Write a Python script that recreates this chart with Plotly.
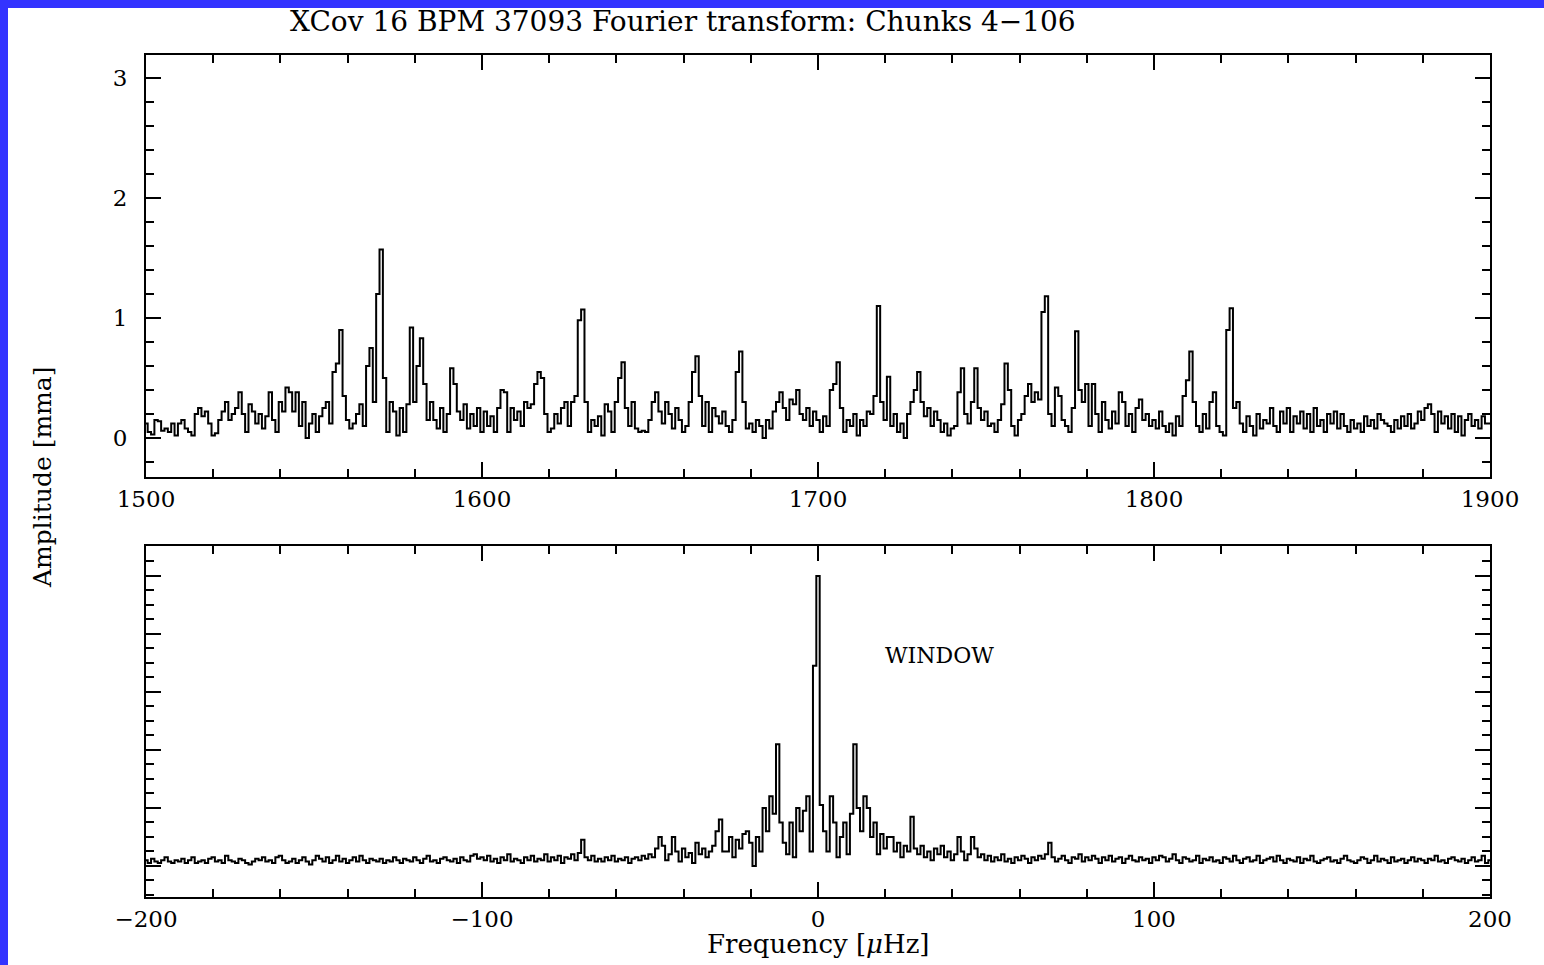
import plotly.graph_objects as go

# ---------------- data ----------------
freq_start_top = 1500   # µHz, 1 µHz bins
amp_1500_1599 = [0.12,0.05,0.03,0.15,0.14,0.06,0.08,0.05,0.12,0.02,
                 0.12,0.15,0.08,0.05,0.02,0.2,0.25,0.18,0.22,0.12,
                 0.02,0.04,0.15,0.22,0.3,0.15,0.2,0.25,0.38,0.2,
                 0.05,0.28,0.22,0.12,0.2,0.08,0.18,0.38,0.15,0.05,
                 0.3,0.22,0.42,0.38,0.22,0.38,0.1,0.3,0.0,0.12,
                 0.2,0.05,0.18,0.25,0.3,0.12,0.55,0.62,0.9,0.35,
                 0.15,0.08,0.12,0.2,0.28,0.1,0.6,0.75,0.3,1.2,
                 1.57,0.5,0.05,0.3,0.22,0.02,0.25,0.05,0.28,0.92,
                 0.3,0.6,0.83,0.45,0.15,0.3,0.15,0.08,0.25,0.05,
                 0.2,0.58,0.45,0.22,0.15,0.28,0.08,0.2,0.1,0.25]
amp_1600_1699 = [0.05,0.22,0.1,0.18,0.05,0.25,0.4,0.38,0.05,0.25,
                 0.15,0.22,0.1,0.3,0.25,0.28,0.45,0.55,0.5,0.2,
                 0.05,0.08,0.2,0.12,0.25,0.3,0.1,0.3,0.35,0.98,
                 1.07,0.3,0.05,0.15,0.1,0.18,0.02,0.28,0.22,0.05,
                 0.3,0.5,0.63,0.25,0.1,0.3,0.08,0.05,0.06,0.05,
                 0.15,0.3,0.38,0.22,0.12,0.3,0.2,0.08,0.25,0.15,
                 0.05,0.1,0.3,0.55,0.68,0.35,0.1,0.3,0.05,0.25,
                 0.18,0.12,0.22,0.1,0.05,0.15,0.55,0.72,0.3,0.08,
                 0.12,0.05,0.15,0.1,0.0,0.15,0.08,0.22,0.3,0.38,
                 0.25,0.15,0.32,0.28,0.4,0.2,0.15,0.25,0.1,0.22]
amp_1700_1799 = [0.15,0.05,0.18,0.1,0.4,0.45,0.63,0.25,0.05,0.15,
                 0.1,0.2,0.02,0.15,0.1,0.22,0.2,0.35,1.1,0.3,
                 0.15,0.51,0.1,0.2,0.05,0.12,0.0,0.2,0.3,0.4,
                 0.55,0.3,0.18,0.25,0.1,0.22,0.15,0.05,0.12,0.02,
                 0.08,0.1,0.38,0.58,0.2,0.12,0.3,0.58,0.25,0.15,
                 0.22,0.1,0.12,0.05,0.15,0.28,0.62,0.4,0.1,0.02,
                 0.15,0.2,0.35,0.45,0.3,0.38,0.32,1.05,1.18,0.2,
                 0.1,0.42,0.35,0.15,0.1,0.05,0.25,0.89,0.4,0.3,
                 0.45,0.1,0.45,0.2,0.05,0.3,0.15,0.08,0.22,0.12,
                 0.38,0.3,0.1,0.2,0.05,0.25,0.32,0.15,0.2,0.1]
amp_1800_1900 = [0.15,0.08,0.22,0.1,0.05,0.12,0.02,0.18,0.1,0.35,
                 0.48,0.72,0.3,0.1,0.05,0.2,0.08,0.3,0.38,0.1,
                 0.05,0.02,0.9,1.08,0.25,0.3,0.12,0.05,0.18,0.1,
                 0.02,0.2,0.08,0.15,0.12,0.25,0.1,0.05,0.22,0.12,
                 0.25,0.05,0.18,0.12,0.22,0.08,0.2,0.05,0.25,0.1,
                 0.15,0.05,0.2,0.12,0.22,0.08,0.2,0.1,0.05,0.15,
                 0.08,0.12,0.05,0.18,0.1,0.15,0.08,0.2,0.15,0.12,
                 0.1,0.05,0.15,0.08,0.18,0.1,0.2,0.08,0.12,0.22,
                 0.15,0.25,0.28,0.2,0.05,0.22,0.12,0.18,0.08,0.2,
                 0.05,0.18,0.02,0.15,0.2,0.1,0.15,0.08,0.18,0.12,
                 0.12]

freq_start_win = -200   # µHz, 1 µHz bins
win_m200_m101 = [0.02,0.01,0.025,0.015,0.01,0.02,0.03,0.015,0.01,0.02,
                 0.015,0.025,0.01,0.02,0.03,0.01,0.015,0.02,0.01,0.025,
                 0.03,0.015,0.02,0.01,0.035,0.02,0.015,0.01,0.025,0.02,
                 0.01,0.005,0.015,0.025,0.02,0.03,0.015,0.02,0.01,0.03,
                 0.035,0.02,0.01,0.015,0.025,0.01,0.02,0.03,0.015,0.005,
                 0.02,0.035,0.025,0.015,0.03,0.01,0.02,0.035,0.015,0.025,
                 0.01,0.02,0.03,0.015,0.035,0.02,0.01,0.025,0.02,0.015,
                 0.025,0.01,0.02,0.015,0.03,0.02,0.01,0.025,0.02,0.015,
                 0.03,0.02,0.01,0.025,0.035,0.015,0.02,0.01,0.025,0.03,
                 0.02,0.015,0.025,0.01,0.03,0.02,0.015,0.035,0.04,0.025]
win_m100_m1 = [0.03,0.02,0.035,0.015,0.025,0.01,0.03,0.02,0.04,0.015,
               0.025,0.02,0.01,0.03,0.02,0.035,0.015,0.025,0.02,0.04,
               0.015,0.03,0.02,0.035,0.01,0.03,0.025,0.04,0.02,0.045,
               0.09,0.03,0.02,0.035,0.015,0.025,0.015,0.03,0.02,0.035,
               0.015,0.025,0.02,0.03,0.01,0.025,0.03,0.02,0.035,0.025,
               0.04,0.03,0.06,0.1,0.07,0.02,0.04,0.1,0.05,0.015,
               0.06,0.03,0.045,0.01,0.08,0.04,0.06,0.03,0.05,0.07,
               0.12,0.16,0.05,0.05,0.1,0.03,0.09,0.06,0.11,0.12,
               0.08,0.0,0.1,0.05,0.2,0.12,0.24,0.18,0.42,0.15,
               0.08,0.04,0.15,0.03,0.2,0.12,0.19,0.24,0.05,0.69]
win_0_100 = [1.0,0.21,0.12,0.05,0.24,0.15,0.03,0.1,0.15,0.04,
             0.18,0.42,0.2,0.12,0.24,0.2,0.1,0.15,0.04,0.11,
             0.06,0.1,0.1,0.05,0.08,0.03,0.07,0.05,0.17,0.06,
             0.04,0.07,0.03,0.05,0.02,0.06,0.04,0.07,0.03,0.05,
             0.02,0.04,0.1,0.05,0.02,0.04,0.1,0.06,0.03,0.04,
             0.02,0.035,0.015,0.03,0.02,0.04,0.015,0.025,0.01,0.03,
             0.02,0.035,0.025,0.01,0.03,0.02,0.035,0.025,0.04,0.08,
             0.03,0.015,0.025,0.035,0.02,0.01,0.03,0.025,0.04,0.015,
             0.03,0.02,0.035,0.025,0.01,0.03,0.02,0.035,0.015,0.025,
             0.03,0.01,0.025,0.035,0.02,0.015,0.03,0.02,0.025,0.01,
             0.03]
win_101_200 = [0.02,0.035,0.03,0.015,0.025,0.04,0.02,0.01,0.03,0.025,
               0.015,0.02,0.035,0.01,0.025,0.02,0.03,0.015,0.02,0.01,
               0.03,0.025,0.015,0.035,0.02,0.01,0.025,0.03,0.015,0.02,
               0.035,0.01,0.02,0.025,0.03,0.015,0.035,0.02,0.01,0.025,
               0.02,0.015,0.03,0.01,0.025,0.02,0.035,0.015,0.01,0.02,
               0.025,0.03,0.015,0.02,0.01,0.025,0.035,0.02,0.015,0.01,
               0.02,0.03,0.025,0.01,0.02,0.035,0.015,0.025,0.02,0.01,
               0.03,0.015,0.02,0.025,0.01,0.02,0.03,0.015,0.025,0.02,
               0.01,0.025,0.02,0.035,0.015,0.02,0.01,0.025,0.03,0.02,
               0.015,0.025,0.01,0.02,0.03,0.015,0.02,0.035,0.01,0.02]

top_ticks = [1500, 1600, 1700, 1800, 1900]
win_ticks = [-200, -100, 0, 100, 200]
win_tick_text = ["\u2212200", "\u2212100", "0", "100", "200"]
amp_ticks = [0, 1, 2, 3]

title_text = "XCov 16 BPM 37093 Fourier transform: Chunks 4\u2212106"

# ---------------- build ----------------
amp_top = amp_1500_1599 + amp_1600_1699 + amp_1700_1799 + amp_1800_1900
freq_top = [freq_start_top + i for i in range(len(amp_top))]
amp_win = win_m200_m101 + win_m100_m1 + win_0_100 + win_101_200
freq_win = [freq_start_win + i for i in range(len(amp_win))]

FONT = "DejaVu Serif"
W, H = 1544, 965
ML, MR, MT, MB = 146, 54, 55, 68
PH = H - MT - MB

def py(px):  # paper y from pixel y
    return (H - MB - px) / PH

def px_x(px):
    return (px - ML) / (W - ML - MR)

fig = go.Figure()
fig.add_trace(go.Scatter(x=freq_top, y=amp_top, mode="lines", line=dict(color="black", width=2, shape="hvh"),
                         xaxis="x", yaxis="y", showlegend=False, hoverinfo="skip"))
fig.add_trace(go.Scatter(x=freq_win, y=amp_win, mode="lines", line=dict(color="black", width=2, shape="hvh"),
                         xaxis="x2", yaxis="y2", showlegend=False, hoverinfo="skip"))

axis_common = dict(showline=True, linecolor="black", linewidth=2, mirror="allticks", ticks="inside",
                   tickcolor="black", tickwidth=2, showgrid=False, zeroline=False,
                   tickfont=dict(family=FONT, size=23, color="black"))

fig.update_layout(
    width=W, height=H,
    margin=dict(l=ML, r=MR, t=MT, b=MB),
    paper_bgcolor="white", plot_bgcolor="white",
    xaxis=dict(**axis_common, range=[1500, 1900], tickvals=top_ticks, ticktext=[str(v) for v in top_ticks],
               ticklen=15,
               minor=dict(ticks="inside", dtick=20, ticklen=8, tickcolor="black", tickwidth=2),
               anchor="y", domain=[0, 1]),
    yaxis=dict(**axis_common, range=[-0.325, 3.19], tickvals=amp_ticks, ticklen=15,
               ticklabelstandoff=12,
               minor=dict(ticks="inside", dtick=0.2, tick0=0, ticklen=8, tickcolor="black", tickwidth=2),
               anchor="x", domain=[py(477), py(55)]),
    xaxis2=dict(**axis_common, range=[-200, 200], tickvals=win_ticks, ticklen=15,
                ticktext=win_tick_text,
                minor=dict(ticks="inside", dtick=20, ticklen=8, tickcolor="black", tickwidth=2),
                anchor="y2", domain=[0, 1]),
    yaxis2=dict(**axis_common, range=[-0.107, 1.103], dtick=0.2, tick0=0, ticklen=15, showticklabels=False,
                minor=dict(ticks="inside", dtick=0.05, tick0=0, ticklen=8, tickcolor="black", tickwidth=2),
                anchor="x2", domain=[0, py(546)]),
)

fig.add_annotation(text=title_text, xref="paper", yref="paper", x=px_x(683), y=py(22),
                   showarrow=False, font=dict(family=FONT, size=28, color="black"),
                   xanchor="center", yanchor="middle")
fig.add_annotation(text="Amplitude [mma]", xref="paper", yref="paper", x=px_x(42), y=py(478),
                   showarrow=False, textangle=-90, font=dict(family=FONT, size=25, color="black"),
                   xanchor="center", yanchor="middle")
fig.add_annotation(text="Frequency [<i>\u03bc</i>Hz]", xref="paper", yref="paper", x=px_x(818), y=py(944),
                   showarrow=False, font=dict(family=FONT, size=26, color="black"),
                   xanchor="center", yanchor="middle")
fig.add_annotation(text="WINDOW", xref="x2", yref="y2", x=36.3, y=0.724,
                   showarrow=False, font=dict(family=FONT, size=22, color="black"),
                   xanchor="center", yanchor="middle")

# blue frame on the left and top edges
blue = "#3333FF"
fig.add_shape(type="rect", xref="paper", yref="paper", x0=px_x(0), x1=px_x(8), y0=py(H), y1=py(0),
              fillcolor=blue, line=dict(width=0), layer="above")
fig.add_shape(type="rect", xref="paper", yref="paper", x0=px_x(0), x1=px_x(W), y0=py(8), y1=py(0),
              fillcolor=blue, line=dict(width=0), layer="above")

fig.write_html("out.html")
